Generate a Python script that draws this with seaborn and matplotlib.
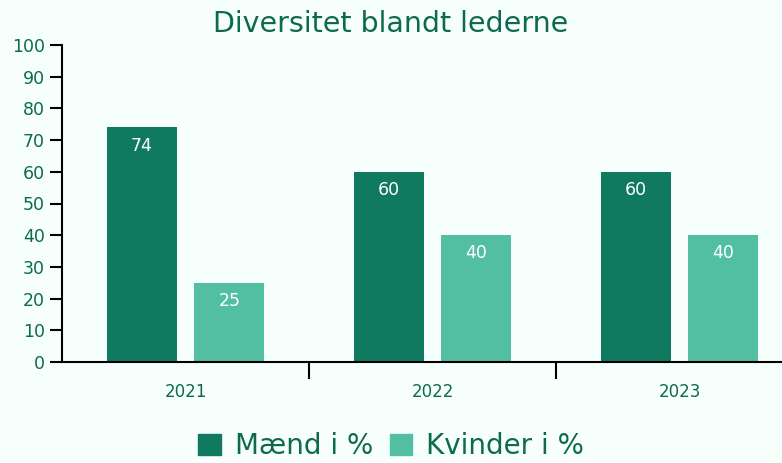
import pandas as pd
import matplotlib.pyplot as plt
import seaborn as sns

years = ['2021', '2022', '2023']
maend = [74, 60, 60]
kvinder = [25, 40, 40]
series_names = ['Mænd i %', 'Kvinder i %']

dark_green = '#0F7A5F'
light_green = '#52BFA3'
text_green = '#0E6A4F'
bg_color = '#F6FFFC'

df = pd.DataFrame({
    'year': years * 2,
    'value': maend + kvinder,
    'series': [series_names[0]] * 3 + [series_names[1]] * 3,
})

sns.set_theme(style='white')
plt.rcParams['font.family'] = ['DejaVu Sans']

fig = plt.figure(figsize=(7.82, 4.63), dpi=100, facecolor=bg_color)
ax = fig.add_axes([62 / 782, 101 / 463, 741 / 782, 317 / 463])
ax.set_facecolor(bg_color)

sns.barplot(data=df, x='year', y='value', hue='series', ax=ax,
            palette=[dark_green, light_green], width=0.71, gap=0.2,
            saturation=1, linewidth=0, legend=False)

for cont in ax.containers:
    ax.bar_label(cont, label_type='edge', padding=-19.5, color='white', fontsize=12.5)

ax.set_ylim(0, 100)
ax.set_xlim(-0.5, 2.5)
ax.set_yticks(range(0, 101, 10))
ax.set_xlabel('')
ax.set_ylabel('')
ax.tick_params(axis='y', colors='black', labelcolor=text_green, labelsize=12.5,
               length=8.5, width=1.5, direction='out', left=True, pad=4)
ax.tick_params(axis='x', which='major', length=0, labelcolor=text_green,
               labelsize=12, pad=15)
ax.set_xticks([0.5, 1.5], minor=True)
ax.tick_params(axis='x', which='minor', length=12, width=1.5, color='black',
               direction='out', bottom=True)

sns.despine(ax=ax, top=True, right=True)
for s in ['left', 'bottom']:
    ax.spines[s].set_color('black')
    ax.spines[s].set_linewidth(1.5)

fig.text(0.5, 1 - 24 / 463, 'Diversitet blandt lederne', ha='center', va='center',
         fontsize=20.5, color=text_green)

handles = [plt.Rectangle((0, 0), 1, 1, color=c) for c in [dark_green, light_green]]
fig.legend(handles, series_names, loc='center', bbox_to_anchor=(0.5, 1 - 446 / 463),
           ncol=2, frameon=False, fontsize=20, labelcolor=text_green,
           handlelength=0.8, handleheight=0.8, handletextpad=0.5, columnspacing=0.6)

fig.savefig('out.png', dpi=100, facecolor=bg_color)
